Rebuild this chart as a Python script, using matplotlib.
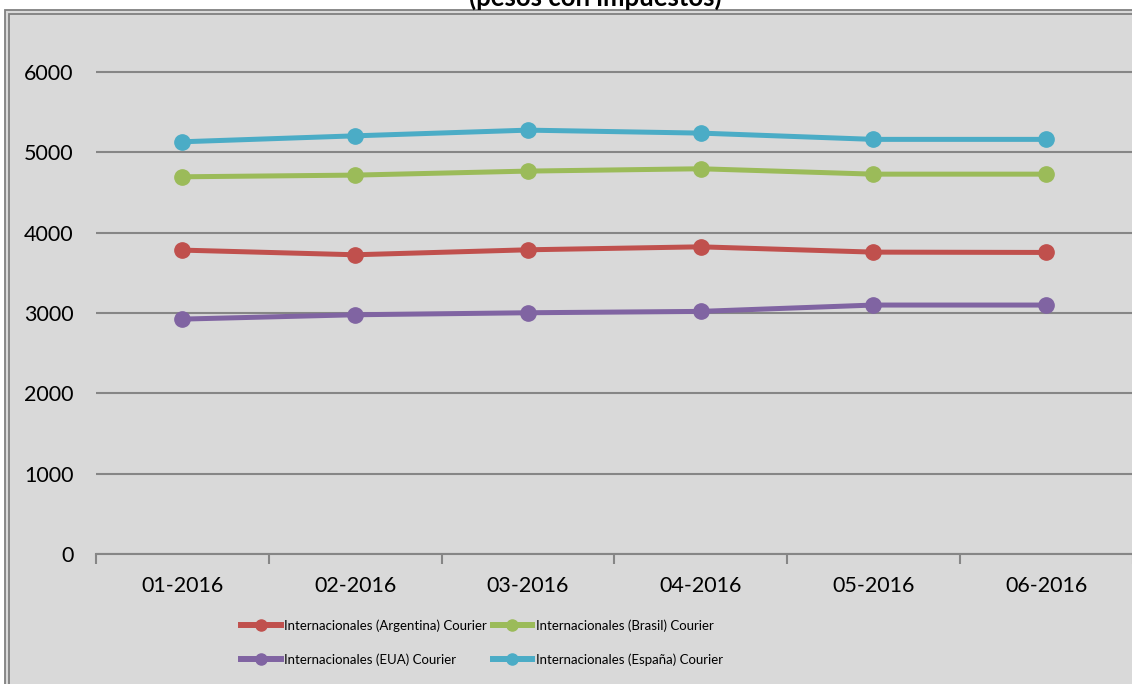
import matplotlib
matplotlib.use("Agg")
import matplotlib.pyplot as plt
from matplotlib.patches import Rectangle
from matplotlib.lines import Line2D

plt.rcParams['font.family'] = ['Lato', 'DejaVu Sans']

# Monthly courier prices (pesos, taxes included)
meses = ["01-2016", "02-2016", "03-2016", "04-2016", "05-2016", "06-2016"]
argentina = [3784, 3726, 3788, 3825, 3759, 3755]
brasil = [4697, 4718, 4768, 4797, 4730, 4730]
eua = [2925, 2979, 3004, 3021, 3100, 3100]
espana = [5133, 5207, 5278, 5241, 5163, 5163]

series = [
    ("Internacionales (Argentina) Courier", argentina, "#C0504D"),
    ("Internacionales (Brasil) Courier", brasil, "#9BBB59"),
    ("Internacionales (EUA) Courier", eua, "#8064A2"),
    ("Internacionales (España) Courier", espana, "#4BACC6"),
]

W, H = 1132, 684
fig = plt.figure(figsize=(W / 100, H / 100), dpi=100)
fig.patch.set_facecolor("white")

# chart area background and double frame
fig.patches.append(Rectangle((5 / W, -0.01), 1, 1 - 10 / H + 0.01, transform=fig.transFigure,
                             facecolor="#D9D9D9", edgecolor="#808080", lw=1.3, zorder=-2))
fig.patches.append(Rectangle((9 / W, -0.01), 1, 1 - 14 / H + 0.01, transform=fig.transFigure,
                             facecolor="none", edgecolor="#808080", lw=1.3, zorder=-1))

fig.text(595 / W, 1 - 6 / H, "(pesos con impuestos)", ha="center", va="baseline",
         fontsize=18.5, fontweight="bold", color="black")

left, right = 96 / W, 1132.5 / W
bottom, top = 1 - 554 / H, 1 - 32 / H
ax = fig.add_axes([left, bottom, right - left, top - bottom])
ax.set_facecolor("none")

x = list(range(len(meses)))
for label, vals, color in series:
    ax.plot(x, vals, color=color, lw=3.6, marker="o", markersize=11,
            solid_capstyle="round", label=label, zorder=3, clip_on=False)

ax.set_xlim(-0.5, len(meses) - 0.5)
ax.set_ylim(0, 6500)
ax.set_yticks(range(0, 7000, 1000))
ax.yaxis.grid(True, color="#868686", lw=1.5)
ax.set_axisbelow(True)
for s in ["left", "right", "top"]:
    ax.spines[s].set_visible(False)
ax.spines["bottom"].set_color("#868686")
ax.spines["bottom"].set_linewidth(1.5)

ax.tick_params(axis="y", length=0, pad=16, labelsize=15.5, labelcolor="black")
ax.set_xticks([i - 0.5 for i in range(len(meses) + 1)])
ax.set_xticklabels([])
ax.set_xticks(x, minor=True)
ax.set_xticklabels(meses, minor=True)
ax.tick_params(axis="x", which="major", length=7, width=1.5, color="#868686", direction="out")
ax.tick_params(axis="x", which="minor", length=0, pad=16, labelsize=15.5, labelcolor="black")

# legend: two rows, two columns
handles = [Line2D([], [], color=c, lw=4.3, marker="o", markersize=8) for _, _, c in series]
labels = [l for l, _, _ in series]
order = [0, 2, 1, 3]
fig.legend([handles[i] for i in order], [labels[i] for i in order], ncol=2,
           loc="center", bbox_to_anchor=(482 / W, 1 - 642.5 / H), frameon=False,
           fontsize=9.5, handlelength=3.0, handletextpad=0.3, columnspacing=0.4,
           labelspacing=1.6, borderpad=0)

fig.savefig("out.png", dpi=100)
